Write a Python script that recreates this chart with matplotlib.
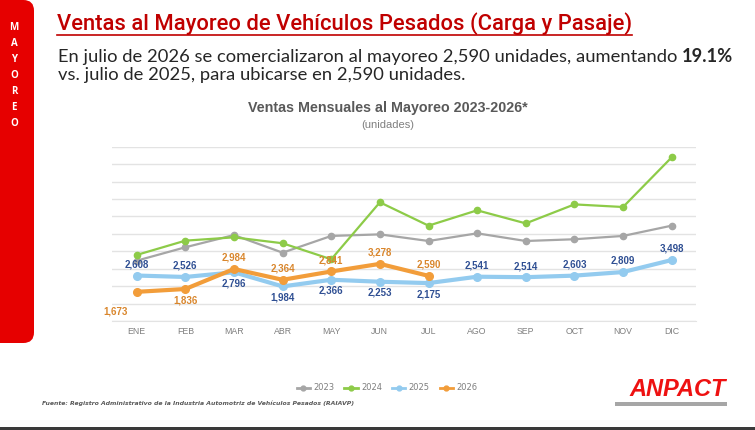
import matplotlib
matplotlib.use("Agg")
import matplotlib.pyplot as plt
from matplotlib.patches import FancyBboxPatch, Rectangle
from matplotlib.lines import Line2D

months = ["ENE", "FEB", "MAR", "ABR", "MAY", "JUN", "JUL", "AGO", "SEP", "OCT", "NOV", "DIC"]
sales_2023 = [3460, 4230, 4930, 3920, 4880, 4970, 4590, 5030, 4590, 4690, 4880, 5470]
sales_2024 = [3790, 4610, 4800, 4460, 3540, 6810, 5470, 6350, 5600, 6690, 6540, 9390]
sales_2025 = [2608, 2526, 2796, 1984, 2366, 2253, 2175, 2541, 2514, 2603, 2809, 3498]
sales_2026 = [1673, 1836, 2984, 2364, 2841, 3278, 2590]

# label placement: +1 above, -1 below, 0 = below-left
pos_2025 = [1, 1, -1, -1, -1, -1, -1, 1, 1, 1, 1, 1]
pos_2026 = [0, -1, 1, 1, 1, 1, 1]

C23, C24, C25, C26 = "#a6a6a6", "#8dcb48", "#93cbef", "#f29d3a"
LBL25, LBL26 = "#2f4f93", "#d9862c"
RED = "#e60000"

fig = plt.figure(figsize=(7.55, 4.30), dpi=100)
W, H = 755, 430


def fx(px):
    return px / W


def fy(py):
    return 1 - py / H


# red side band
band = FancyBboxPatch((fx(-20), fy(343)), fx(54), fy(0) - fy(343),
                      boxstyle="round,pad=0,rounding_size=0.014",
                      transform=fig.transFigure, facecolor=RED, edgecolor="none",
                      mutation_aspect=W / H)
fig.patches.append(band)
for i, ch in enumerate("MAYOREO"):
    fig.text(fx(14), fy(27 + 16 * i), ch, color="white", fontsize=7,
             fontweight="bold", ha="center", va="center", family="Open Sans")

# title with underline
title = fig.text(fx(57), fy(24), "Ventas al Mayoreo de Vehículos Pesados (Carga y Pasaje)",
                 color="#c00000", fontsize=15.8, family="Roboto", fontweight="medium",
                 ha="left", va="center")
renderer = fig.canvas.get_renderer()
bb = title.get_window_extent(renderer)
fig.add_artist(Line2D([bb.x0 / W, bb.x1 / W], [fy(35), fy(35)], color="#c00000", lw=1.2,
                      transform=fig.transFigure))

# subtitle
sub1 = fig.text(fx(58), fy(57), "En julio de 2026 se comercializaron al mayoreo 2,590 unidades, aumentando ",
                color="#262626", fontsize=13.2, family="Lato", ha="left", va="center")
bb1 = sub1.get_window_extent(renderer)
fig.text(bb1.x1 / W, fy(57), "19.1%", color="#262626", fontsize=13.2, family="Lato",
         fontweight="bold", ha="left", va="center")
fig.text(fx(58), fy(75), "vs. julio de 2025, para ubicarse en 2,590 unidades.",
         color="#262626", fontsize=13.2, family="Lato", ha="left", va="center")

# chart heading
fig.text(fx(388), fy(108), "Ventas Mensuales al Mayoreo 2023-2026*", color="#595959",
         fontsize=10.3, fontweight="bold", family="Liberation Sans", ha="center", va="center")
fig.text(fx(388), fy(125), "(unidades)", color="#7f7f7f", fontsize=8,
         family="Liberation Sans", ha="center", va="center")

ax = fig.add_axes([fx(112.4), fy(321), fx(696) - fx(112.4), fy(146.7) - fy(321)])
x = list(range(len(months)))
ax.plot(x, sales_2023, color=C23, lw=1.6, marker="o", ms=4.5, label="2023", zorder=3)
ax.plot(x, sales_2024, color=C24, lw=1.6, marker="o", ms=4.5, label="2024", zorder=3)
ax.plot(x, sales_2025, color=C25, lw=3.0, marker="o", ms=5.5, label="2025", zorder=4)
ax.plot(x[:len(sales_2026)], sales_2026, color=C26, lw=3.0, marker="o", ms=5.5,
        label="2026", zorder=5)

for xi, v, p in zip(x, sales_2025, pos_2025):
    ax.annotate(f"{v:,}", (xi, v), xytext=(0, 8 * p), textcoords="offset points",
                ha="center", va="center", fontsize=7, fontweight="bold",
                color=LBL25, family="Liberation Sans", zorder=6)
for xi, v, p in zip(x, sales_2026, pos_2026):
    off = (-15, -14) if p == 0 else (0, 8 * p)
    ax.annotate(f"{v:,}", (xi, v), xytext=off, textcoords="offset points",
                ha="center", va="center", fontsize=7, fontweight="bold",
                color=LBL26, family="Liberation Sans", zorder=6)

ax.set_xlim(-0.5, 11.5)
ax.set_ylim(0, 10000)
ax.set_yticks(range(0, 10001, 1000))
ax.yaxis.grid(True, color="#e3e3e3", lw=1.0)
ax.set_axisbelow(True)
ax.set_yticklabels([])
ax.tick_params(axis="y", length=0)
ax.set_xticks(x)
ax.set_xticklabels(months, color="#7f7f7f", fontsize=6.3, family="Liberation Sans")
ax.tick_params(axis="x", length=0, pad=4)
for s in ["top", "right", "left"]:
    ax.spines[s].set_visible(False)
ax.spines["bottom"].set_color("#e3e3e3")

handles, labels = ax.get_legend_handles_labels()
handles = [Line2D([], [], color=h.get_color(), lw=2, marker="o", ms=3.5) for h in handles]
fig.legend(handles, labels, loc="center", bbox_to_anchor=(fx(387), fy(388)), ncol=4,
           frameon=False, fontsize=6, handlelength=1.6, handletextpad=0.4,
           columnspacing=1.2, labelcolor="#7f7f7f")

fig.text(fx(42), fy(403),
         "Fuente: Registro Administrativo de la Industria Automotriz de Vehículos Pesados (RAIAVP)",
         color="#595959", fontsize=4.4, style="italic", fontweight="bold", family="DejaVu Sans",
         ha="left", va="center")

# ANPACT logo
fig.text(fx(678), fy(390), "ANPACT", color="#ee1111", fontsize=17, fontweight="heavy",
         style="italic", family="Liberation Sans", ha="center", va="center")
fig.patches.append(Rectangle((fx(615), fy(406)), fx(727) - fx(615), fy(402) - fy(406),
                             transform=fig.transFigure, facecolor="#a6a6a6", edgecolor="none"))

# bottom rule
fig.patches.append(Rectangle((0, 0), 1, fy(427), transform=fig.transFigure,
                             facecolor="#3a3a3a", edgecolor="none"))

fig.savefig("out.png", dpi=100)
